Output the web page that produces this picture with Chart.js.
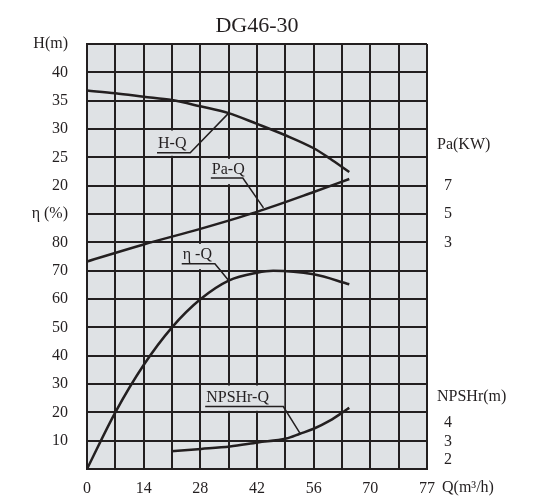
<!DOCTYPE html>
<html>
<head>
<meta charset="utf-8">
<script src="https://cdn.jsdelivr.net/npm/chart.js@4.4.0/dist/chart.umd.min.js"></script>
<style>
  html, body { margin: 0; padding: 0; background: #fff; }
</style>
</head>
<body>
<canvas id="pump" width="545" height="498"></canvas>
<script>
// curve data (Q in m3/h)
const qHead = [0, 7, 14, 21, 28, 35, 42, 49, 56, 60, 64.8];
const head = [36.8, 36.3, 35.7, 35.1, 34.0, 32.8, 30.9, 28.9, 26.6, 24.8, 22.4];

const qPower = [0, 14, 28, 42, 56, 64.8];
const power = [1.65, 2.85, 3.95, 5.15, 6.55, 7.47];

const qEff = [0, 7, 14, 21, 28, 35, 42, 46, 56, 64.8];
const eff = [0, 20, 36.7, 50, 59.9, 66.5, 69.3, 70, 68.7, 65.2];

const qNpsh = [20.8, 28.2, 35.3, 42.2, 49.2, 52.6, 56, 60.1, 63.2, 64.8];
const npsh = [2.48, 2.6, 2.73, 2.95, 3.16, 3.42, 3.69, 4.14, 4.58, 4.82];

// tick labels
const xTicks = [0, 14, 28, 42, 56, 70, 84];
const xTickLabels = ['0', '14', '28', '42', '56', '70', '77'];
const headTicks = [20, 25, 30, 35, 40];
const effTicks = [10, 20, 30, 40, 50, 60, 70, 80];
const powerTicks = [3, 5, 7];
const npshTicks = [2, 3, 4];

const bg = '#dfe2e5';
const ink = '#231f20';
const serif = '"Liberation Serif", "DejaVu Serif", serif';

// axis ranges (each scale shares the same grid)
const hMin = -30, hMax = 45;
const eMin = 0, eMax = 150;

const pts = (xs, ys) => xs.map((x, i) => ({ x: x, y: ys[i] }));

// curve name tags: underline from q0 to q1 at v, leader to (tq, tv), mask band in H units
const tags = [
  { text: 'H-Q', axis: 'y', q0: 17.3, q1: 25.5, v: 25.8, tq: 35, tv: 32.8, band: [30, 25] },
  { text: 'Pa-Q', axis: 'yPa', q0: 30.6, q1: 38.5, v: 7.54, tq: 43.6, tv: 5.43, band: [25, 20] },
  { text: 'η -Q', axis: 'yEta', q0: 23.4, q1: 31.6, v: 72.4, tq: 35, tv: 66.5, band: [10, 5] },
  { text: 'NPSHr-Q', axis: 'yNP', q0: 29.2, q1: 48.5, v: 4.89, tq: 52.6, tv: 3.45, band: [-15, -20] }
];

const sheet = {
  id: 'sheet',
  beforeDraw(chart) {
    const a = chart.chartArea, ctx = chart.ctx;
    ctx.save();
    ctx.fillStyle = bg;
    ctx.fillRect(a.left, a.top, a.right - a.left, a.bottom - a.top);
    ctx.restore();
  },
  beforeDatasetsDraw(chart) {
    const ctx = chart.ctx, sx = chart.scales.x, sy = chart.scales.y;
    ctx.save();
    ctx.font = '16px ' + serif;
    ctx.fillStyle = bg;
    tags.forEach(t => {
      const x0 = sx.getPixelForValue(t.q0) - 2;
      const x1 = sx.getPixelForValue(t.q1) + 1;
      const y0 = sy.getPixelForValue(t.band[0]) + 1.5;
      const y1 = sy.getPixelForValue(t.band[1]) - 1.5;
      ctx.fillRect(x0, y0, x1 - x0, y1 - y0);
    });
    ctx.restore();
  },
  afterDatasetsDraw(chart) {
    const ctx = chart.ctx, sx = chart.scales.x;
    ctx.save();
    ctx.font = '16px ' + serif;
    ctx.fillStyle = ink;
    ctx.strokeStyle = ink;
    ctx.lineWidth = 1.5;
    ctx.textBaseline = 'alphabetic';
    ctx.textAlign = 'left';
    tags.forEach(t => {
      const s = chart.scales[t.axis];
      const x0 = sx.getPixelForValue(t.q0);
      const x1 = sx.getPixelForValue(t.q1);
      const y = s.getPixelForValue(t.v);
      ctx.fillText(t.text, x0 + 1, y - 4.5);
      ctx.beginPath();
      ctx.moveTo(x0, y);
      ctx.lineTo(x1, y);
      ctx.lineTo(sx.getPixelForValue(t.tq), s.getPixelForValue(t.tv));
      ctx.stroke();
    });
    ctx.restore();
  },
  afterDraw(chart) {
    const ctx = chart.ctx, a = chart.chartArea, sx = chart.scales.x;
    const sPa = chart.scales.yPa, sNp = chart.scales.yNP;
    ctx.save();
    ctx.fillStyle = ink;
    // title
    ctx.font = '22px ' + serif;
    ctx.textAlign = 'center';
    ctx.textBaseline = 'alphabetic';
    ctx.fillText('DG46-30', (a.left + a.right) / 2, 32);
    // right hand scales
    ctx.font = '16px ' + serif;
    ctx.textBaseline = 'middle';
    ctx.textAlign = 'center';
    powerTicks.forEach(v => ctx.fillText(String(v), 448, sPa.getPixelForValue(v)));
    npshTicks.forEach(v => ctx.fillText(String(v), 448, sNp.getPixelForValue(v)));
    ctx.textAlign = 'left';
    ctx.fillText('Pa(KW)', 437, sPa.getPixelForValue(9.9));
    ctx.fillText('NPSHr(m)', 437, sNp.getPixelForValue(5.4));
    // flow unit after last tick
    ctx.fillText('Q(m³/h)', sx.getPixelForValue(84) + 15, a.bottom + 19);
    ctx.restore();
  }
};

const line = (data, axis) => ({
  data: data,
  yAxisID: axis,
  borderColor: ink,
  borderWidth: 2.5,
  pointRadius: 0,
  fill: false,
  cubicInterpolationMode: 'monotone'
});

new Chart(document.getElementById('pump'), {
  type: 'line',
  data: {
    datasets: [
      line(pts(qHead, head), 'y'),
      line(pts(qPower, power), 'yPa'),
      line(pts(qEff, eff), 'yEta'),
      line(pts(qNpsh, npsh), 'yNP')
    ]
  },
  options: {
    responsive: false,
    devicePixelRatio: 1,
    animation: false,
    layout: { padding: { top: 44, right: 118, left: 0, bottom: 0 } },
    plugins: { legend: { display: false }, tooltip: { enabled: false }, title: { display: false } },
    scales: {
      x: {
        type: 'linear',
        min: 0,
        max: 84,
        afterBuildTicks: s => { s.ticks = []; for (let v = 0; v <= 84; v += 7) s.ticks.push({ value: v }); },
        afterFit: s => { s.height = 29; },
        grid: { color: ink, lineWidth: 2, drawTicks: false },
        border: { color: ink, width: 2 },
        ticks: {
          autoSkip: false,
          maxRotation: 0,
          padding: 10,
          color: ink,
          font: { family: serif, size: 16 },
          callback: v => {
            const i = xTicks.indexOf(v);
            return i < 0 ? '' : xTickLabels[i];
          }
        }
      },
      y: {
        type: 'linear',
        position: 'left',
        min: hMin,
        max: hMax,
        afterBuildTicks: s => { s.ticks = []; for (let v = hMin; v <= hMax; v += 5) s.ticks.push({ value: v }); },
        afterFit: s => { s.width = 87; },
        grid: { color: ink, lineWidth: 2, drawTicks: false },
        border: { color: ink, width: 2 },
        ticks: {
          autoSkip: false,
          padding: 19,
          color: ink,
          font: { family: serif, size: 16 },
          callback: v => {
            if (v === hMax) return 'H(m)';
            if (headTicks.includes(v)) return String(v);
            if (v === 15) return 'η (%)';
            const e = Math.round(eMin + (v - hMin) / (hMax - hMin) * (eMax - eMin));
            return effTicks.includes(e) ? String(e) : '';
          }
        }
      },
      yEta: { type: 'linear', display: false, min: eMin, max: eMax },
      yPa: { type: 'linear', display: false, min: -13, max: 17 },
      yNP: { type: 'linear', display: false, min: 1.514, max: 24.49 }
    }
  },
  plugins: [sheet]
});
</script>
</body>
</html>
